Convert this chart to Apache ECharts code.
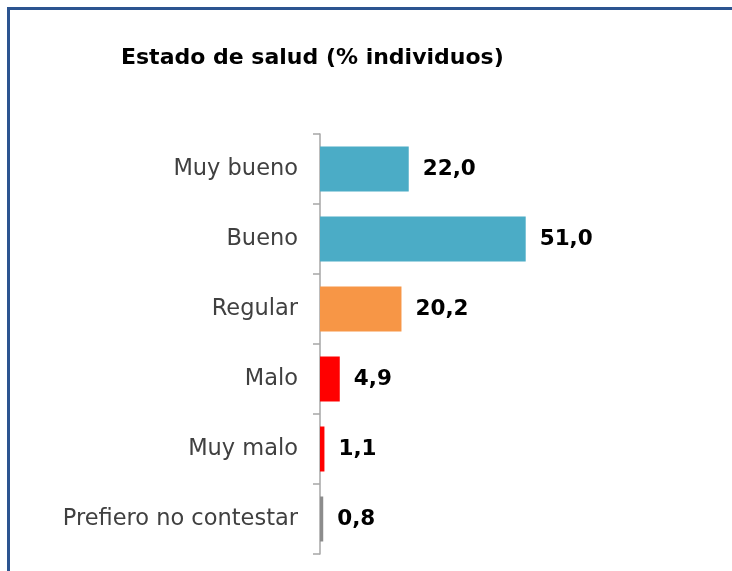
<!DOCTYPE html>
<html>
<head>
<meta charset="utf-8">
<script src="https://cdn.jsdelivr.net/npm/echarts@6/dist/echarts.min.js"></script>
<style>
  html, body { margin: 0; padding: 0; background: #ffffff; }
  #frame { position: absolute; left: 0; top: 0; width: 732px; height: 571px; }
  #chart { position: absolute; left: 0; top: 0; width: 732px; height: 571px; }
  .edge-top { position: absolute; left: 7px; top: 7px; width: 725px; height: 3px; background: #2c5490; }
  .edge-left { position: absolute; left: 7px; top: 7px; width: 3px; height: 564px; background: #2c5490; }
</style>
</head>
<body>
<div id="frame">
  <div id="chart"></div>
  <div class="edge-top"></div>
  <div class="edge-left"></div>
</div>
<script>
// Self-rated health, share of respondents (%)
const categories = ['Muy bueno', 'Bueno', 'Regular', 'Malo', 'Muy malo', 'Prefiero no contestar'];
const shares = [22.0, 51.0, 20.2, 4.9, 1.1, 0.8];
const barColors = ['#4bacc6', '#4bacc6', '#f79646', '#ff0000', '#ff0000', '#8c8c8c'];

const chart = echarts.init(document.getElementById('chart'), null, { renderer: 'canvas' });

const fontFamily = "'DejaVu Sans', sans-serif";

chart.setOption({
  animation: false,
  backgroundColor: 'transparent',
  title: {
    text: 'Estado de salud (% individuos)',
    left: 116,
    top: 42,
    textStyle: { fontFamily: fontFamily, fontSize: 22, fontWeight: 'bold', color: '#000000' }
  },
  grid: { left: 320, top: 134, bottom: 17, width: 242, containLabel: false },
  xAxis: {
    type: 'value',
    min: 0,
    max: 60,
    show: false
  },
  yAxis: {
    type: 'category',
    data: categories,
    inverse: true,
    axisLine: { show: true, lineStyle: { color: '#a6a6a6', width: 1.5 } },
    axisTick: { show: true, inside: false, length: 7, lineStyle: { color: '#a6a6a6', width: 1.5 } },
    axisLabel: { margin: 22, color: '#404040', fontFamily: fontFamily, fontSize: 22.5, fontWeight: 'normal' },
    splitLine: { show: false }
  },
  series: [{
    type: 'bar',
    barWidth: 45,
    data: shares.map((v, i) => ({ value: v, itemStyle: { color: barColors[i] } })),
    label: {
      show: true,
      position: 'right',
      distance: 14,
      formatter: p => p.value.toFixed(1).replace('.', ','),
      fontFamily: fontFamily,
      fontSize: 21.5,
      fontWeight: 'bold',
      color: '#000000'
    }
  }]
});
</script>
</body>
</html>
